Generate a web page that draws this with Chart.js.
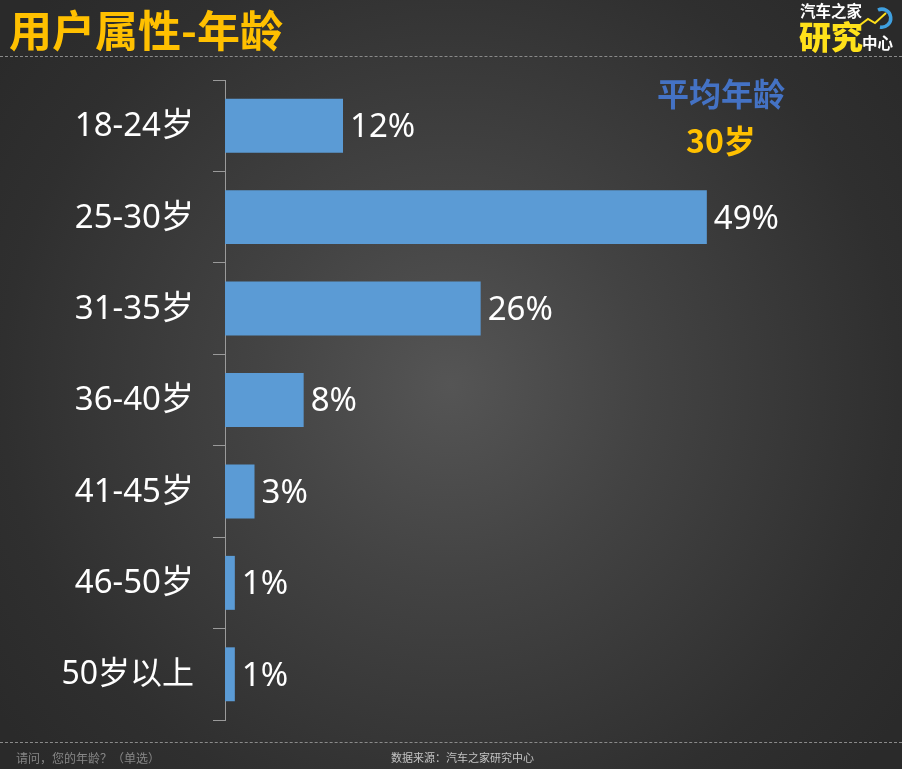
<!DOCTYPE html>
<html>
<head>
<meta charset="utf-8">
<script src="https://cdn.jsdelivr.net/npm/chart.js@4"></script>
<style>
html, body { margin: 0; padding: 0; }
#wrap { position: relative; width: 902px; height: 769px; overflow: hidden; background: radial-gradient(circle 560px at 450px 385px, #555 0%, #434343 35%, #2f2f2f 80%, #2a2a2a 100%); font-family: "Noto Sans", "Noto Sans CJK SC", sans-serif; }
#chart { position: absolute; left: 0; top: 0; }
.txt { position: absolute; white-space: nowrap; }
.dash { position: absolute; left: 0; width: 902px; border-top: 1px dashed #8a8a8a; }
</style>
</head>
<body>
<div id="wrap">
  <canvas id="chart" width="902" height="769"></canvas>
  <div class="txt" style="left:9px;top:0;font:bold 43px/56px 'Noto Sans CJK SC';color:#ffc000">用户属性-年龄</div>
  <div class="dash" style="top:56px"></div>
  <div class="dash" style="top:742px"></div>
  <div class="txt" style="left:657px;top:70px;font:bold 32px/44px 'Noto Sans CJK SC';color:#4472c4">平均年龄</div>
  <div class="txt" style="left:686px;top:117px;font:bold 32px/44px 'Noto Sans CJK SC';color:#ffc000">30岁</div>
  <div class="txt" style="left:16px;top:749px;font:12px/17px 'Noto Sans CJK SC';color:#868686">请问，您的年龄？（单选）</div>
  <div class="txt" style="left:391px;top:749px;font:11px/17px 'Noto Sans CJK SC';color:#c4c4c4">数据来源：汽车之家研究中心</div>
  <div class="txt" style="left:800px;top:0;font:bold 15.5px/20px 'Noto Sans CJK SC';color:#fff">汽车之家</div>
  <div class="txt" style="left:799px;top:17px;font:900 32px/36px 'Noto Sans CJK SC';color:#ffe11a">研究</div>
  <div class="txt" style="left:862px;top:32px;font:bold 15.5px/20px 'Noto Sans CJK SC';color:#fff">中心</div>
  <svg class="txt" style="left:850px;top:2px" width="50" height="34" viewBox="0 0 50 34">
    <path d="M28 8 A9 9 0 1 1 30 25" fill="none" stroke="#3fa0e0" stroke-width="3.5"/>
    <path d="M10 23 L18 17 L25 21 L36 11" fill="none" stroke="#ffe11a" stroke-width="2"/>
  </svg>
</div>
<script>
const categories = ['18-24岁', '25-30岁', '31-35岁', '36-40岁', '41-45岁', '46-50岁', '50岁以上'];
const shares = [12, 49, 26, 8, 3, 1, 1];
const valueMax = 60;

// 柱子右侧的百分比标签
const barLabels = {
  id: 'barLabels',
  afterDatasetsDraw(chart) {
    const ctx = chart.ctx;
    ctx.save();
    ctx.fillStyle = '#fff';
    ctx.font = '33px "Noto Sans", "Noto Sans CJK SC"';
    ctx.textAlign = 'left';
    ctx.textBaseline = 'middle';
    chart.getDatasetMeta(0).data.forEach((bar, i) => {
      ctx.fillText(shares[i] + '%', bar.x + 7, bar.y + 2);
    });
    ctx.restore();
  }
};

new Chart(document.getElementById('chart'), {
  type: 'bar',
  data: { labels: categories, datasets: [{ data: shares, backgroundColor: '#5b9bd5', borderWidth: 0, barPercentage: 0.59, categoryPercentage: 1 }] },
  options: {
    indexAxis: 'y',
    responsive: false,
    animation: false,
    layout: { padding: { top: 80, bottom: 49, right: 87, left: 0 } },
    plugins: { legend: { display: false }, tooltip: { enabled: false } },
    scales: {
      x: { display: false, min: 0, max: valueMax },
      y: {
        afterFit(axis) { axis.width = 225; },
        border: { color: '#9a9a9a', width: 1 },
        grid: { drawOnChartArea: false, color: '#9a9a9a', tickLength: 12 },
        ticks: {
          color: '#fff',
          padding: 19,
          labelOffset: 1,
          font: c => ({ size: c.index === 6 ? 32 : 33, family: '"Noto Sans", "Noto Sans CJK SC"' })
        }
      }
    }
  },
  plugins: [barLabels]
});
</script>
</body>
</html>
